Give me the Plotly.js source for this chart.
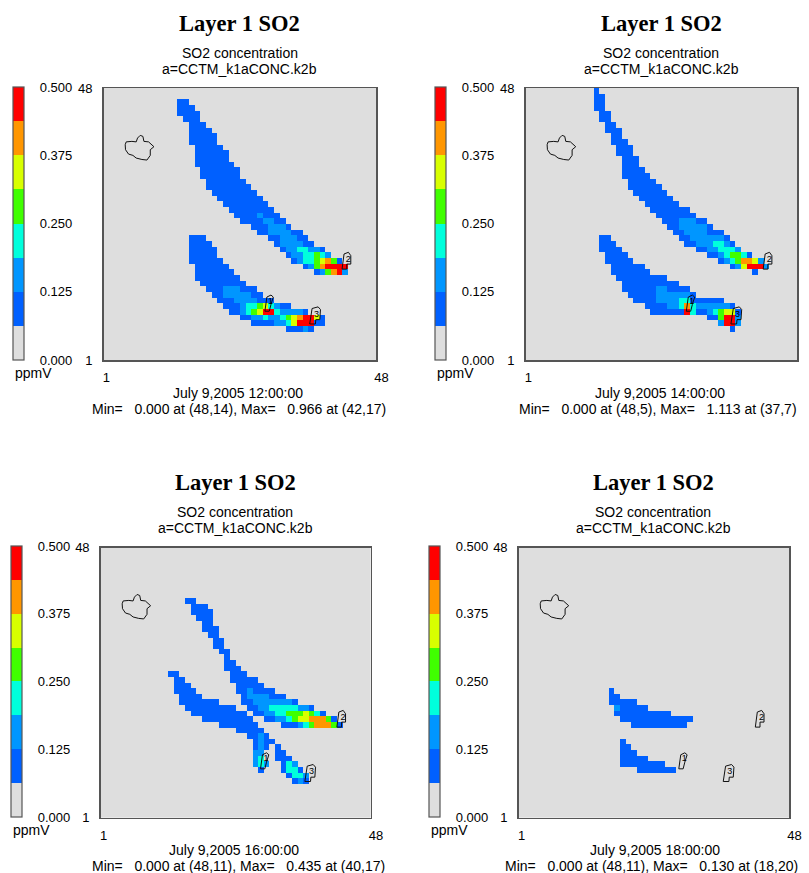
<!DOCTYPE html>
<html>
<head>
<meta charset="utf-8">
<script src="https://cdn.plot.ly/plotly-3.0.1.min.js"></script>
<style>html,body{margin:0;padding:0;background:#fff;}</style>
</head>
<body>
<div id="chart" style="width:809px;height:873px;"></div>
<script>
// Colour bands of the legend (0.0625 ppmV wide each)
const bandColors = ['#dedede','#0060ff','#0096ff','#00ffdc','#40ff00','#d8ff00','#ff9600','#ff0000'];
const bandTicks = [0, 0.125, 0.25, 0.375, 0.5];
const bandTickText = ['0.000','0.125','0.250','0.375','0.500'];
// Representative concentration read for each colour code
const bandValues = {B:0.09, L:0.155, C:0.22, G:0.28, Y:0.345, O:0.405, R:0.47};
const backgroundValue = 0.02;

// Each entry: [row, first column, colour code + run length ...]
const rows12h = [
 [46,14,'B2'],[45,14,'B3'],[44,14,'B4'],[43,15,'B3'],[42,16,'B3'],[41,16,'B4'],[40,16,'B5'],[39,16,'B5'],
 [38,17,'B5'],[37,17,'B6'],[36,17,'B6'],[35,17,'B7'],[34,18,'B7'],[33,18,'B7'],[32,19,'B7'],[31,19,'B8'],
 [30,20,'B8'],[29,21,'B8'],[28,22,'B8'],[27,23,'B8'],[26,24,'B4L1B3'],[25,25,'B4L2B2'],[24,27,'B3L3B1'],
 [23,28,'B2L4B2'],[22,30,'B2L3B2'],[21,31,'B1L4B2'],[20,32,'B1L2C2L2B1'],[19,33,'B1L2C2G1C1L1'],
 [18,34,'B1L1C2G1Y1O1G1B1'],[17,36,'B1L1G1O1R4'],[16,38,'B1L1G1O1R1L1'],
 [22,16,'B3'],[21,16,'B4'],[20,16,'B5'],[19,16,'B5'],[18,16,'B6'],[17,17,'B6'],[16,17,'B7'],[15,17,'B8'],
 [14,18,'B8'],[13,19,'B3L3B3'],[12,20,'B2L5B2'],[11,21,'B3L4B3'],[10,22,'B3L1C2G1Y1C1L1B2'],
 [9,23,'B2L1C1G1Y1R2C1L4B1'],[8,25,'B2L2C1L2C1G1Y1O1R2Y1B1'],[7,27,'B4L2C1Y1R3B2'],[6,33,'B3L1B1']
];
const rows14h = [
 [48,13,'B1'],[47,13,'B2'],[46,13,'B2'],[45,13,'B2'],[44,14,'B2'],[43,14,'B2'],[42,15,'B2'],[41,15,'B3'],
 [40,16,'B2'],[39,16,'B3'],[38,17,'B3'],[37,17,'B3'],[36,18,'B3'],[35,18,'B3'],[34,18,'B4'],[33,18,'B5'],
 [32,19,'B5'],[31,19,'B6'],[30,20,'B6'],[29,21,'B6'],[28,22,'B6'],[27,23,'B7'],[26,24,'B7'],[25,25,'B3L3B2'],
 [24,26,'B2L5B1'],[23,27,'B2L4B3'],[22,28,'B2L6B1'],[21,29,'B2L3C2L1B1'],[20,31,'B2L2C3L1'],
 [19,33,'B2L1C1G2C1B1'],[18,35,'B1L1C1G1O2Y1L1'],[17,37,'B1L1Y1R3L1'],[16,41,'B1'],
 [22,14,'B2'],[21,14,'B3'],[20,14,'B4'],[19,15,'B4'],[18,15,'B5'],[17,16,'B6'],[16,16,'B7'],[15,17,'B9'],
 [14,18,'B10'],[13,18,'B6L2B4'],[12,19,'B5L6B1'],[11,20,'B4L4C2B6'],[10,22,'B4L2C1O1C1L6B1'],
 [9,23,'B6R1C1B2L1C1G1Y2B1'],[8,33,'B2G1R2L1'],[7,35,'L1R2L1'],[6,37,'B1']
];
const rows16h = [
 [39,16,'B2'],[38,17,'B3'],[37,17,'B4'],[36,18,'B3'],[35,19,'B2'],[34,19,'B3'],[33,20,'B2'],[32,21,'B2'],
 [31,21,'B2'],[30,22,'B2'],[29,23,'B1'],[28,23,'B2'],[27,23,'B3'],[26,24,'B3'],[25,24,'B5'],[24,25,'B5'],
 [23,25,'B2L1B4'],[22,26,'B1L4B3'],[21,26,'B2L7B1'],[20,27,'B2L2C5L2B1'],[19,28,'B2L2C2G3Y1G1C1B1'],
 [18,30,'B2L2C1G1Y2O3G1B1'],[17,33,'B3L1C1G1O3G1B1'],
 [26,13,'B2'],[25,14,'B2'],[24,14,'B3'],[23,14,'B4'],[22,15,'B4'],[21,15,'B7'],[20,16,'B9'],[19,17,'B10'],
 [18,19,'B9'],[17,22,'B7'],[16,25,'B5'],[15,27,'B2L1B1'],[14,28,'B1L1B2'],[13,28,'B1L1B1'],[13,32,'B1'],
 [12,28,'L2'],[12,32,'B2'],[11,28,'L1C1'],[11,32,'B3'],[10,28,'L1C1L1'],[10,33,'B1C1L1'],[9,29,'B1'],
 [9,33,'B1C2B1'],[8,34,'B1C2L1'],[7,35,'B1L1B1']
];
const rows18h = [
 [23,17,'B1'],[22,17,'B2'],[21,17,'B5'],[20,18,'L1B5'],[19,18,'B10'],[18,19,'B13'],[17,21,'B10'],
 [14,19,'B1'],[13,19,'B2'],[12,19,'B3'],[11,19,'B5'],[10,19,'B8'],[9,22,'B7']
];
// Reported maxima: [column, row, value]
const peak12h = [42,17,0.966];
const peak14h = [37,7,1.113];
const peak16h = [40,17,0.435];
const peak18h = [18,20,0.130];

// Map outlines in grid coordinates
const lakeX = [4.32,4.5,5.5,6.26,6.5,6.97,7.44,7.62,8.44,9.03,9.38,8.74,8.74,8.15,7.26,6.26,5.68,4.91,4.38,4.32];
const lakeY = [38.5,39.0,39.09,39.0,39.68,40.15,39.97,39.09,39.0,38.5,38.15,37.62,36.62,35.8,35.9,36.15,36.62,36.85,37.62,38.5];
const source1X = [28.93,29.28,30.0,30.41,30.0,29.7,28.93];
const source1Y = [9.15,11.65,12.0,11.65,10.34,9.15,9.15];
const source2X = [42.52,42.87,43.64,44.06,44.06,43.35,43.35,42.52];
const source2Y = [16.57,19.24,19.54,18.95,17.46,17.46,16.57,16.57];
const source3X = [36.82,37.24,38.3,38.72,38.6,37.89,37.83,36.82];
const source3Y = [6.9,9.63,9.92,9.45,7.67,7.67,6.9,6.9];
const sourceLabelX = [29.9,43.6,38.0];
const sourceLabelY = [10.9,18.2,8.6];
const sourceLabels = ['1','2','3'];

const gridIndex = Array.from({length:48},(_,i)=>i+1);
const titleText = 'Layer 1 SO2';
const subtitle1 = 'SO2 concentration';
const subtitle2 = 'a=CCTM_k1aCONC.k2b';
const unitText = 'ppmV';
const axisTickText = ['1','\u00a0\u00a0\u00a048'];

const panels = [
 {rows:rows12h, peak:peak12h, date:'July 9,2005 12:00:00', stats:'Min=\u00a0\u00a0\u00a00.000 at (48,14), Max=\u00a0\u00a0\u00a00.966 at (42,17)',
  l:103.5,r:376,t:88,b:360.3, cbx:13, cbt:87, cbh:273, cx:239.5, dateX:238, statX:238.5, ty:23, sy1:52.8, sy2:69.3, dy:392.8, sy:409.3, uy:373},
 {rows:rows14h, peak:peak14h, date:'July 9,2005 14:00:00', stats:'Min=\u00a0\u00a0\u00a00.000 at (48,5), Max=\u00a0\u00a0\u00a01.113 at (37,7)',
  l:525.5,r:797,t:88,b:360.3, cbx:435, cbt:87, cbh:273, cx:661, dateX:660, statX:658, ty:23, sy1:52.8, sy2:69.3, dy:392.8, sy:409.3, uy:373},
 {rows:rows16h, peak:peak16h, date:'July 9,2005 16:00:00', stats:'Min=\u00a0\u00a0\u00a00.000 at (48,11), Max=\u00a0\u00a0\u00a00.435 at (40,17)',
  l:100.7,r:370.5,t:547.5,b:817.5, cbx:11, cbt:546, cbh:271, cx:235, dateX:234, statX:238, ty:482, sy1:511.8, sy2:528.3, dy:849.8, sy:866.3, uy:830},
 {rows:rows18h, peak:peak18h, date:'July 9,2005 18:00:00', stats:'Min=\u00a0\u00a0\u00a00.000 at (48,11), Max=\u00a0\u00a0\u00a00.130 at (18,20)',
  l:518.7,r:789,t:547.5,b:817.5, cbx:429, cbt:546, cbh:271, cx:653, dateX:655, statX:651, ty:482, sy1:511.8, sy2:528.3, dy:849.8, sy:866.3, uy:830}
];

const W = 809, H = 873;
const textFont = {family:'"Liberation Sans", Arial, sans-serif', size:14, color:'#000'};
const tickFont = {family:'"Liberation Sans", Arial, sans-serif', size:13, color:'#000'};

const scale = [];
bandColors.forEach((c,i)=>{ scale.push([i/bandColors.length,c]); scale.push([(i+1)/bandColors.length,c]); });

function buildGrid(rows, peak){
  const z = gridIndex.map(()=>gridIndex.map(()=>backgroundValue));
  rows.forEach(([row,col,code])=>{
    let c = col;
    (code.match(/[A-Z]\d+/g)||[]).forEach(run=>{
      const n = parseInt(run.slice(1),10);
      for(let i=0;i<n;i++){ z[row-1][c-1] = bandValues[run[0]]; c++; }
    });
  });
  z[peak[1]-1][peak[0]-1] = peak[2];
  return z;
}

const traces = [];
const layout = {width:W,height:H,margin:{l:0,r:0,t:0,b:0},paper_bgcolor:'#fff',plot_bgcolor:'#dedede',showlegend:false,annotations:[]};

function note(text,x,y,font,xanchor){
  layout.annotations.push({text:text,x:x/W,y:1-y/H,xref:'paper',yref:'paper',xanchor:xanchor||'center',yanchor:'middle',showarrow:false,font:font||textFont,borderpad:0});
}

panels.forEach((p,i)=>{
  const n = i===0?'':String(i+1);
  const xa = 'x'+n, ya = 'y'+n;
  traces.push({type:'heatmap',x:gridIndex,y:gridIndex,z:buildGrid(p.rows,p.peak),xaxis:xa,yaxis:ya,
    colorscale:scale,zmin:0,zmax:0.5,zsmooth:false,hoverinfo:'skip',
    colorbar:{x:p.cbx/W,xanchor:'left',y:1-p.cbt/H,yanchor:'top',lenmode:'pixels',len:p.cbh,thicknessmode:'pixels',thickness:11,
      xpad:0,ypad:0,outlinecolor:'#555',outlinewidth:1.2,borderwidth:0,
      tickmode:'array',tickvals:bandTicks,ticktext:bandTickText,ticks:'outside',ticklen:13,tickcolor:'rgba(0,0,0,0)',tickfont:tickFont}});
  [[lakeX,lakeY],[source1X,source1Y],[source2X,source2Y],[source3X,source3Y]].forEach(([x,y])=>{
    traces.push({type:'scatter',mode:'lines',x:x,y:y,xaxis:xa,yaxis:ya,line:{color:'#111',width:1},hoverinfo:'skip',showlegend:false});
  });
  traces.push({type:'scatter',mode:'text',x:sourceLabelX,y:sourceLabelY,text:sourceLabels,xaxis:xa,yaxis:ya,
    textfont:{family:'"Liberation Sans", Arial, sans-serif',size:9,color:'#000'},hoverinfo:'skip',showlegend:false});

  const axisBase = {showgrid:false,zeroline:false,showline:true,mirror:true,linecolor:'#555',linewidth:1.5,
    tickmode:'array',ticks:'outside',tickcolor:'rgba(0,0,0,0)',tickfont:tickFont,range:[0.5,48.5],fixedrange:true};
  layout['xaxis'+n] = Object.assign({},axisBase,{domain:[p.l/W,p.r/W],anchor:ya,tickvals:[1,48.5],ticktext:axisTickText,ticklen:5});
  layout['yaxis'+n] = Object.assign({},axisBase,{domain:[1-p.b/H,1-p.t/H],anchor:xa,tickvals:[0.5,48.5],ticktext:['1','48'],ticklen:7});

  note('<b>'+titleText+'</b>',p.cx,p.ty,{family:'"Liberation Serif", "Times New Roman", serif',size:22.5,color:'#000'});
  note(subtitle1,p.cx,p.sy1);
  note(subtitle2,p.cx,p.sy2);
  note(p.date,p.dateX,p.dy);
  note(p.stats,p.statX,p.sy);
  note(unitText,p.cbx+1,p.uy,textFont,'left');
});

Plotly.newPlot('chart',traces,layout,{displayModeBar:false,staticPlot:true});
</script>
</body>
</html>
